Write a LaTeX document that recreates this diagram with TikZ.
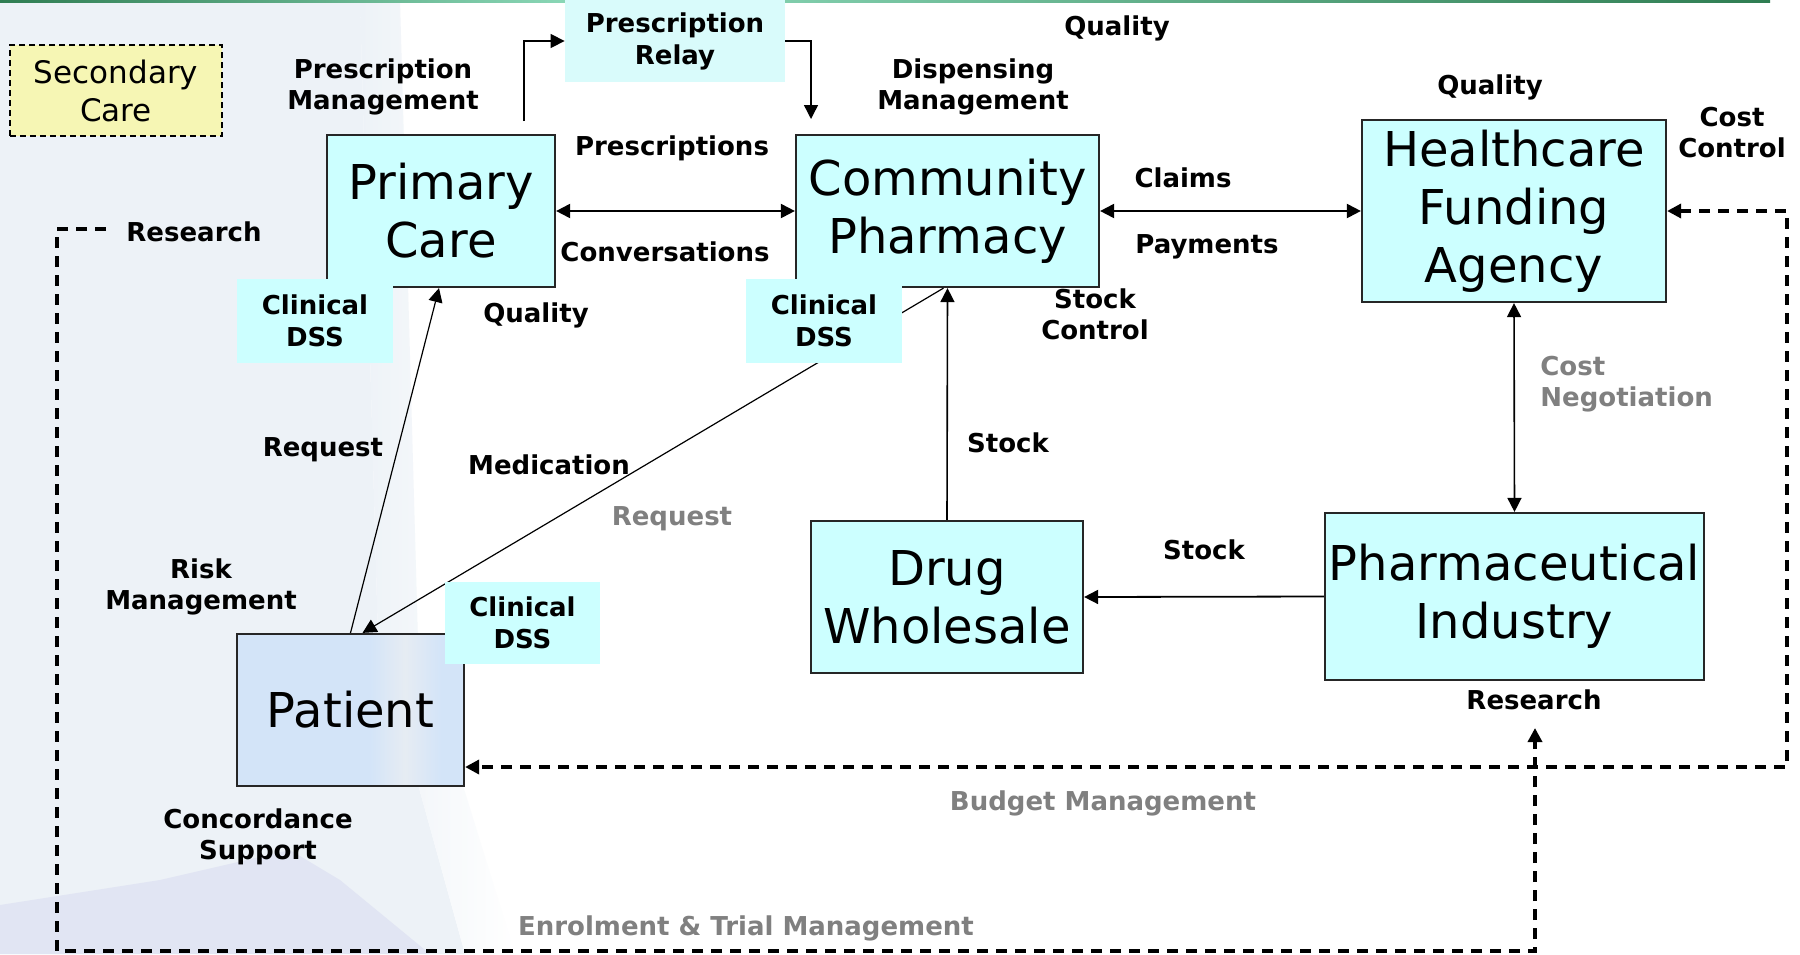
\documentclass[tikz,border=0pt]{standalone}
\usepackage{fontspec}
\setmainfont{DejaVu Sans}
\usetikzlibrary{arrows.meta,calc}
\definecolor{boxcyan}{HTML}{CCFFFF}
\definecolor{relaycyan}{HTML}{D9FBFB}
\definecolor{secyellow}{HTML}{F6F6B4}
\definecolor{patblue}{HTML}{D3E4F8}
\definecolor{patwhite}{HTML}{E6ECF3}
\definecolor{bgblue}{HTML}{EDF2F7}
\definecolor{wmblue}{HTML}{DCE0F2}
\definecolor{labgray}{HTML}{808080}
\definecolor{boxborder}{HTML}{262626}
\definecolor{gdark}{HTML}{2F7D52}
\definecolor{glight}{HTML}{8FDCBC}
\pgfdeclarehorizontalshading{patshade}{100bp}{color(0bp)=(patblue); color(54bp)=(patblue); color(62bp)=(patwhite); color(70bp)=(patblue); color(100bp)=(patblue)}
\begin{document}
\begin{tikzpicture}[x=0.5pt,y=-0.5pt,
  entity/.style={draw=boxborder, line width=1.1pt, fill=boxcyan, inner sep=0pt, align=center,
    font=\fontsize{24}{29}\selectfont},
  dssbox/.style={fill=boxcyan, inner sep=0pt, align=center,
    font=\fontsize{13}{16}\bfseries\selectfont, minimum width=78pt, minimum height=42pt},
  lab/.style={inner sep=0pt, align=center, font=\fontsize{13}{15.5}\bfseries\selectfont},
  glab/.style={lab, text=labgray},
  arr/.style={line width=0.7pt, -{Triangle[length=7pt,width=7pt]}},
  darr/.style={line width=1pt, {Triangle[length=7pt,width=7pt]}-{Triangle[length=7pt,width=7pt]}},
  dashline/.style={line width=1.7pt, dash pattern=on 5.5pt off 4pt},
]
\useasboundingbox (0,0) rectangle (1800,954);
% background
\fill[white] (0,0) rectangle (1800,954);
\fill[bgblue] (0,0) -- (360,0) -- (378,640) -- (465,954) -- (0,954) -- cycle;
\shade[left color=bgblue, right color=white] (360,0) -- (400,0) -- (418,640) -- (515,954) -- (465,954) -- (378,640) -- cycle;
\fill[wmblue, opacity=0.7] (0,954) -- (0,905) -- (160,880) -- (290,850) -- (340,880) -- (430,954) -- cycle;
\shade[left color=gdark, right color=glight] (0,0) rectangle (600,2.5);
\shade[left color=glight, right color=gdark] (600,0) rectangle (1770,2.5);

% main boxes
\node[draw=black, line width=0.8pt, dash pattern=on 3pt off 2pt, fill=secyellow, inner sep=0pt,
  minimum width=106pt, minimum height=45.5pt, align=center,
  font=\fontsize{15.5}{19}\selectfont] (sec) at (116,90.5) {Secondary\\Care};
\node[fill=relaycyan, inner sep=0pt, minimum width=110pt, minimum height=41pt, align=center,
  font=\fontsize{13}{16}\bfseries\selectfont] (relay) at (675,41) {Prescription\\Relay};
\node[entity, minimum width=114pt, minimum height=76pt] (pc) at (441,211) {Primary\\Care};
\node[entity, minimum width=151.5pt, minimum height=76pt] (cp) at (947.5,211) {Community\\Pharmacy};
\node[entity, minimum width=152pt, minimum height=91pt] (hfa) at (1514,211) {Healthcare\\Funding\\Agency};
\node[entity, minimum width=189.5pt, minimum height=83.5pt] (pi) at (1514.5,596.5) {Pharmaceutical\\Industry};
\node[entity, minimum width=136pt, minimum height=76pt] (dw) at (947,597) {Drug\\Wholesale};
\node[entity, shading=patshade, shading angle=0, minimum width=113.5pt, minimum height=76pt] (pat) at (350.5,710) {Patient};

% connectors under DSS boxes
\draw[arr, line width=0.6pt] ($(cp.south)+(-4,0)$) -- ($(pat.north)+(12,0)$);
\draw[arr, line width=0.6pt] (pat.north) -- ($(pc.south)+(-2,0)$);

% clinical DSS boxes
\node[dssbox] (dss1) at (315,321) {Clinical\\DSS};
\node[dssbox] (dss2) at (824,321) {Clinical\\DSS};
\node[dssbox, minimum width=77.5pt, minimum height=41pt] (dss3) at (522.5,623) {Clinical\\DSS};

% other connectors
\coordinate (pm) at (524,121);
\coordinate (dm) at (811,119);
\draw[arr] (pm) |- (relay.west);
\draw[arr] (relay.east) -| (dm);
\draw[darr] (pc.east) -- (cp.west);
\draw[darr] (cp.east) -- (hfa.west);
\draw[darr, line width=0.8pt] (hfa.south) -- (pi.north);
\draw[arr, line width=0.9pt] (pi.west) -- (dw.east);
\draw[arr, line width=0.8pt] (dw.north) -- (cp.south);

% dashed loops
\coordinate (rs) at (106,229);
\coordinate (rpi) at (1535,728);
\coordinate (bl) at (1787,767);
\draw[dashline, -{Triangle[length=7pt,width=7pt]}] (rs) -- (57,229) -- (57,951) -- (1535,951) -- (rpi);
\draw[dashline, {Triangle[length=7pt,width=7pt]}-{Triangle[length=7pt,width=7pt]}]
  (hfa.east) -- (1787,211) -- (bl) -- (bl -| pat.east);

% labels
\node[lab] (l1) at (383,87) {Prescription\\Management};
\node[lab] (l2) at (1117,28) {Quality};
\node[lab] (l3) at (973,87) {Dispensing\\Management};
\node[lab] (l4) at (1490,87) {Quality};
\node[lab] (l5) at (1732,133) {Cost\\Control};
\node[lab] (l6) at (672,148) {Prescriptions};
\node[lab] (l7) at (665,252) {Conversations};
\node[lab] (l8) at (1183,178) {Claims};
\node[lab] (l9) at (1207,247) {Payments};
\node[lab] (res1) at (194,232) {Research};
\node[lab] (l10) at (536,315) {Quality};
\node[lab] (l11) at (1095,314) {Stock\\Control};
\node[glab, anchor=west, align=left] (l12) at (1540,384) {Cost\\Negotiation};
\node[lab] (l13) at (1008,443) {Stock};
\node[lab] (l14) at (323,450) {Request};
\node[lab] (l15) at (549,465) {Medication};
\node[glab] (l16) at (672,519) {Request};
\node[lab] (l17) at (1204,550) {Stock};
\node[lab] (l18) at (201,587) {Risk\\Management};
\node[lab] (l19) at (1534,700) {Research};
\node[glab] (l20) at (1103,803) {Budget Management};
\node[lab] (l21) at (258,837) {Concordance\\Support};
\node[glab] (l22) at (746,928) {Enrolment \& Trial Management};
\end{tikzpicture}
\end{document}
